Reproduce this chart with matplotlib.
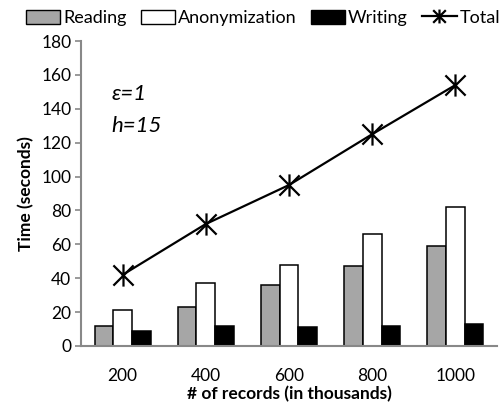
import matplotlib
matplotlib.use("Agg")
import matplotlib.pyplot as plt
import numpy as np
from matplotlib.path import Path
from matplotlib.patches import Patch
from matplotlib.lines import Line2D

categories = ["200", "400", "600", "800", "1000"]
reading = [12, 23, 36, 47, 59]
anonymization = [21, 37, 48, 66, 82]
writing = [9, 12, 11, 12, 13]
total = [42, 72, 95, 125, 154]
yticks = [0, 20, 40, 60, 80, 100, 120, 140, 160, 180]

plt.rcParams['font.family'] = ['Lato', 'DejaVu Sans']

fig = plt.figure(figsize=(5.01, 4.08), dpi=100)
ax = fig.add_axes([81/501, 62/408, 416/501, 305/408])

x = np.arange(len(categories))
w = 0.225
ax.bar(x - w, reading, w, color="#a6a6a6", edgecolor="black", linewidth=1.1, zorder=2)
ax.bar(x, anonymization, w, color="white", edgecolor="black", linewidth=1.1, zorder=2)
ax.bar(x + w, writing, w, color="black", edgecolor="black", linewidth=1.1, zorder=2)

star = Path([(-1, -1), (1, 1), (-1, 1), (1, -1), (0, -1.1), (0, 1.1)],
            [Path.MOVETO, Path.LINETO, Path.MOVETO, Path.LINETO, Path.MOVETO, Path.LINETO])
ax.plot(x, total, color="black", linewidth=1.6, marker=star, markersize=16,
        markeredgewidth=1.6, zorder=3)

ax.set_xlim(-0.5, 4.5)
ax.set_ylim(0, 180)
ax.set_yticks(yticks)
ax.set_yticklabels([str(v) for v in yticks], fontsize=12.5)
ax.set_xticks(x)
ax.set_xticklabels(categories, fontsize=12.5)
ax.tick_params(axis='x', length=0, pad=16)
ax.tick_params(axis='y', length=4, width=1.2, color="#888888", pad=3)

for s in ["top", "right"]:
    ax.spines[s].set_visible(False)
for s in ["left", "bottom"]:
    ax.spines[s].set_color("#888888")
    ax.spines[s].set_linewidth(1.5)

ax.set_xlabel("# of records (in thousands)", fontsize=12.5, fontweight="bold", labelpad=1)
ax.set_ylabel("Time (seconds)", fontsize=12.5, fontweight="bold", labelpad=5)

ax.text(0.074, 0.825, "ε=1", transform=ax.transAxes, fontsize=16, style="italic",
        va="center", ha="left")
ax.text(0.074, 0.72, "h=15", transform=ax.transAxes, fontsize=16, style="italic",
        va="center", ha="left")

handles = [
    Patch(facecolor="#a6a6a6", edgecolor="black", linewidth=1.0),
    Patch(facecolor="white", edgecolor="black", linewidth=1.0),
    Patch(facecolor="black", edgecolor="black", linewidth=1.0),
    Line2D([0], [0], color="black", linewidth=1.6, marker=star, markersize=10, markeredgewidth=1.6),
]
fig.legend(handles, ["Reading", "Anonymization", "Writing", "Total"], loc="center",
           bbox_to_anchor=(0.525, 1 - 18/408), ncol=4, frameon=False, fontsize=13,
           handlelength=1.9, handleheight=0.8, handletextpad=0.15, columnspacing=0.8,
           borderpad=0, borderaxespad=0)

fig.savefig("out.png", dpi=100)
